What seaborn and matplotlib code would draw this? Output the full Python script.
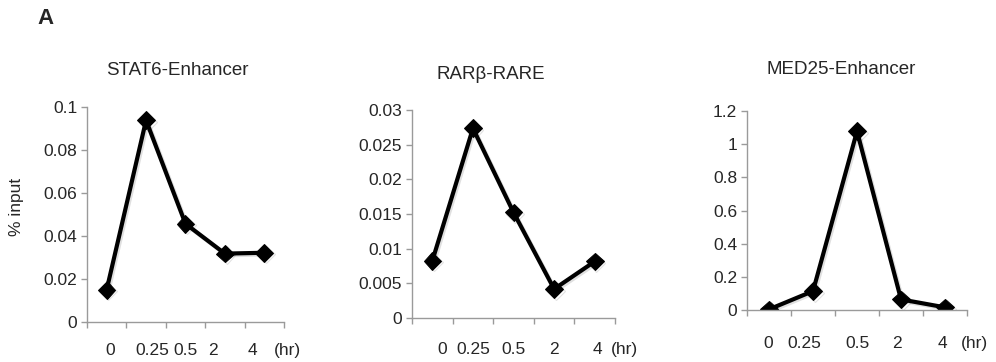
import matplotlib
matplotlib.use("Agg")
import matplotlib.pyplot as plt
import matplotlib.patheffects as pe
from matplotlib.ticker import FuncFormatter
import seaborn as sns
import pandas as pd

sns.set_style("white")
plt.rcParams["font.family"] = ["Liberation Sans", "DejaVu Sans"]

times = ["0", "0.25", "0.5", "2", "4"]
titles = ["STAT6-Enhancer", "RARβ-RARE", "MED25-Enhancer"]
stat6 = [0.0150, 0.0938, 0.0457, 0.0318, 0.0322]
rarb = [0.00826, 0.02736, 0.01522, 0.00418, 0.00816]
med25 = [0.004, 0.114, 1.078, 0.064, 0.016]
series = [stat6, rarb, med25]
yticks = [[0, 0.02, 0.04, 0.06, 0.08, 0.1],
          [0, 0.005, 0.01, 0.015, 0.02, 0.025, 0.03],
          [0, 0.2, 0.4, 0.6, 0.8, 1, 1.2]]
ylabel = "% input"
unit = "(hr)"
panel_letter = "A"

# layout (figure fractions) and hand-placed label offsets
axes_rects = [[0.0873, 0.1105, 0.1978, 0.594],
              [0.4137, 0.1215, 0.2038, 0.5746],
              [0.7500, 0.1436, 0.2209, 0.5497]]
label_x = [[0.08, 1.15, 1.99, 2.70, 3.69, 4.58],
           [0.24, 1.00, 1.99, 3.00, 4.06, 4.72],
           [-0.02, 0.80, 2.00, 2.91, 3.95, 4.68]]
label_pad = [21, 24, 26]  # pixels below axis to text top
title_x = [0.46, 0.39, 0.43]
title_y = [1.17, 1.17, 1.21]

fig = plt.figure(figsize=(9.96, 3.62), dpi=100)
gray = "#9a9a9a"

for i in range(3):
    ax = fig.add_axes(axes_rects[i])
    df = pd.DataFrame({"time": times, "value": series[i]})
    sns.lineplot(data=df, x="time", y="value", ax=ax, color="black",
                 linewidth=3.0, marker="D", markersize=9,
                 markeredgecolor="black", sort=False,
                 path_effects=[pe.SimpleLineShadow(offset=(1.2, -1.2), shadow_color="black", alpha=0.12),
                               pe.Normal()])
    ax.set_xlim(-0.5, 4.5)
    ax.set_ylim(yticks[i][0], yticks[i][-1])
    ax.set_yticks(yticks[i])
    ax.yaxis.set_major_formatter(FuncFormatter(lambda v, p: f"{v:g}"))
    ax.set_xticks([-0.5, 0.5, 1.5, 2.5, 3.5, 4.5])
    ax.set_xticklabels([])
    ax.set_xlabel("")
    ax.set_ylabel("")
    for s in ["top", "right"]:
        ax.spines[s].set_visible(False)
    for s in ["left", "bottom"]:
        ax.spines[s].set_color(gray)
        ax.spines[s].set_linewidth(1.0)
    ax.tick_params(axis="both", which="major", direction="out", length=4,
                   width=1.0, color=gray, labelsize=12.5, pad=3,
                   bottom=True, left=True)
    ax.grid(False)
    labels = times + [unit]
    for lx, lab in zip(label_x[i], labels):
        ax.annotate(lab, xy=(lx, 0), xycoords=("data", "axes fraction"),
                    xytext=(0, -label_pad[i] * 0.72), textcoords="offset points",
                    ha="center", va="top", fontsize=12.5, annotation_clip=False)
    ax.text(title_x[i], title_y[i], titles[i], transform=ax.transAxes,
            ha="center", va="center", fontsize=13.5)
    if i == 0:
        ax.set_ylabel(ylabel, fontsize=12.5)
        ax.yaxis.set_label_coords(-0.32, 0.535)

fig.text(37 / 996, 1 - 19 / 362, panel_letter, fontsize=16, fontweight="bold",
         ha="left", va="center")

fig.savefig("out.png", dpi=100)
